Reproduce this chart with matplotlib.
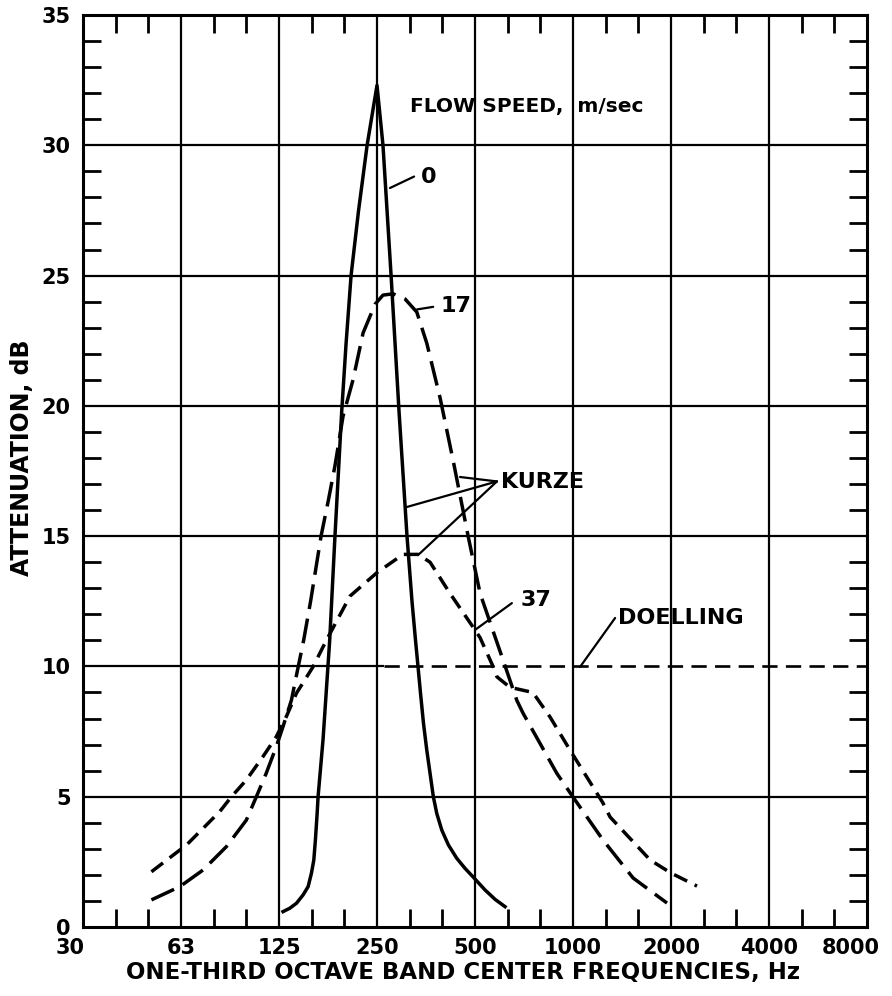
import matplotlib
matplotlib.use('Agg')
import numpy as np
import matplotlib.pyplot as plt
import matplotlib.transforms as mtransforms
from matplotlib.ticker import FixedLocator, NullFormatter

plt.rcParams['font.family'] = ['DejaVu Sans']
plt.rcParams['font.weight'] = 'bold'
plt.rcParams['axes.labelweight'] = 'bold'
plt.rcParams['lines.scale_dashes'] = False

# ---- data (frequency in Hz, attenuation in dB) ----
freq_0 = [128.6, 134.9, 141.4, 148.2, 153.6, 157.2, 159.9, 161.7, 163.7, 164.8,
          170.7, 178.9, 185.7, 194.8, 200.9, 208.1, 219.2, 233.1, 250.0,
          260.8, 276.2, 292.1, 309.1, 320.2, 328.3, 334.1, 340.1, 347.3, 355.5,
          363.8, 372.4, 381.5, 395.3, 414.2, 439.3, 466.0, 497.6, 536.9, 576.4, 618.4]
att_0 = [0.59, 0.72, 0.91, 1.23, 1.55, 2.06, 2.57, 3.34, 4.36, 5.0,
         7.2, 11.0, 15.0, 19.8, 22.4, 25.0, 27.45, 30.0, 32.3,
         30.0, 25.0, 19.8, 15.0, 12.5, 11.0, 10.0, 8.97, 7.82, 6.79,
         5.9, 5.0, 4.36, 3.72, 3.15, 2.64, 2.25, 1.87, 1.42, 1.06, 0.78]

freq_17 = [50.7, 62.0, 73.1, 86.1, 99.2, 106.5, 114.2, 122.6, 128.6, 136.5,
           142.5, 148.8, 156.3, 168.3, 177.4, 185.7, 196.6, 211.0, 226.6, 246.6,
           260.8, 280.1, 305.0, 331.2, 355.6, 390.7, 430.0, 476.3, 518.4, 609.6,
           672.0, 702.7, 891.6, 998.5, 1236.0, 1530.0, 1944.0]
att_17 = [1.04, 1.55, 2.19, 3.08, 4.1, 5.0, 5.9, 6.92, 7.69, 8.71,
          9.86, 11.0, 12.5, 15.0, 16.4, 17.7, 19.6, 21.0, 22.8, 23.9,
          24.25, 24.3, 24.1, 23.6, 22.4, 20.3, 17.8, 15.0, 12.8, 10.25,
          8.7, 8.2, 5.9, 5.0, 3.34, 1.88, 0.92]

freq_37 = [50.7, 65.0, 82.2, 89.3, 99.2, 111.6, 122.6, 131.6, 141.4, 159.1,
           174.7, 206.6, 250.0, 300.6, 334.2, 363.8, 419.1, 500.0, 518.4, 568.0,
           584.0, 640.0, 753.0, 850.0, 978.0, 1236.0, 1300.0, 1726.0, 2000.0, 2404.0]
att_37 = [2.12, 3.15, 4.43, 5.0, 5.64, 6.54, 7.3, 8.07, 8.97, 9.99,
          11.0, 12.7, 13.6, 14.3, 14.3, 14.0, 12.8, 11.4, 11.1, 10.0,
          9.6, 9.2, 9.0, 8.06, 6.8, 4.76, 4.22, 2.57, 2.07, 1.57]

freq_doelling = [262.0, 8000.0]
att_doelling = [10.0, 10.0]

tick_freqs = [31.25, 62.5, 125, 250, 500, 1000, 2000, 4000, 8000]
tick_labels = ['30', '63', '125', '250', '500', '1000', '2000', '4000', '8000']
y_ticks = [0, 5, 10, 15, 20, 25, 30, 35]

# ---- figure ----
fig = plt.figure(figsize=(8.92, 9.96), dpi=100)
ax = fig.add_axes([83/892, 1-927/996, 784/892, 912/996])
ax.set_xscale('log', base=2)
ax.set_xlim(tick_freqs[0], tick_freqs[-1])
ax.set_ylim(0, 35)

# ticks
ax.set_xticks(tick_freqs)
ax.set_xticklabels(tick_labels)
minor_x = [tick_freqs[0] * 2 ** (k / 3) for k in range(1, 24) if k % 3]
ax.xaxis.set_minor_locator(FixedLocator(minor_x))
ax.xaxis.set_minor_formatter(NullFormatter())
ax.set_yticks(y_ticks)
ax.yaxis.set_minor_locator(FixedLocator([v for v in range(0, 36) if v % 5]))
ax.tick_params(axis='both', which='major', length=0, labelsize=15)
ax.tick_params(axis='x', which='major', pad=8)
ax.tick_params(axis='y', which='major', pad=9)
ax.tick_params(axis='both', which='minor', direction='in', length=13, width=2,
               top=True, right=True, bottom=True, left=True)
for s in ax.spines.values():
    s.set_linewidth(2.2)

# nudge the end x tick labels inward, as in the original
xlabels = ax.get_xticklabels()
xlabels[0].set_transform(xlabels[0].get_transform() +
                         mtransforms.ScaledTranslation(-9/72, 0, fig.dpi_scale_trans))
xlabels[-1].set_transform(xlabels[-1].get_transform() +
                          mtransforms.ScaledTranslation(-12/72, 0, fig.dpi_scale_trans))

# grid
for f in tick_freqs[1:-1]:
    ax.axvline(f, color='black', lw=1.6, zorder=1)
for v in [5, 15, 20, 25, 30]:
    ax.axhline(v, color='black', lw=1.6, zorder=1)
ax.hlines(10, tick_freqs[0], freq_doelling[0], color='black', lw=1.6, zorder=1)

# curves
ax.plot(freq_0, att_0, color='black', lw=2.5, solid_joinstyle='round', zorder=3)
l17, = ax.plot(freq_17, att_17, color='black', lw=2.5, zorder=3)
l17.set_dashes([18, 7])
l37, = ax.plot(freq_37, att_37, color='black', lw=2.5, zorder=3)
l37.set_dashes([10.5, 6])
ld, = ax.plot(freq_doelling, att_doelling, color='black', lw=1.9, zorder=3)
ld.set_dashes([11, 6])

# annotations
lead = dict(arrowstyle='-', lw=1.6, color='black', shrinkA=0, shrinkB=0)
ax.text(316, 31.47, 'FLOW SPEED,  m/sec', fontsize=14.5, va='center', ha='left')
ax.annotate('', xy=(274, 28.36), xytext=(325, 28.8), arrowprops=lead)
ax.text(341, 28.8, '0', fontsize=16, va='center', ha='left')
ax.annotate('', xy=(331.8, 23.7), xytext=(372, 23.8), arrowprops=lead)
ax.text(393, 23.85, '17', fontsize=16, va='center', ha='left')
for end in [(305, 16.1), (449.6, 17.27), (334, 14.27)]:
    ax.annotate('', xy=end, xytext=(584, 17.1), arrowprops=lead)
ax.text(603, 17.08, 'KURZE', fontsize=16, va='center', ha='left')
ax.annotate('', xy=(500, 11.4), xytext=(649, 12.43), arrowprops=lead)
ax.text(688, 12.55, '37', fontsize=16, va='center', ha='left')
ax.annotate('', xy=(1051, 9.98), xytext=(1347, 11.86), arrowprops=lead)
ax.text(1372, 11.86, 'DOELLING', fontsize=16, va='center', ha='left')

ax.set_xlabel('ONE-THIRD OCTAVE BAND CENTER FREQUENCIES, Hz', fontsize=16.5)
ax.xaxis.set_label_coords(0.485, -0.037)
ax.set_ylabel('ATTENUATION, dB', fontsize=17)
ax.yaxis.set_label_coords(-0.062, 0.515)

fig.savefig('out.png', dpi=100)
